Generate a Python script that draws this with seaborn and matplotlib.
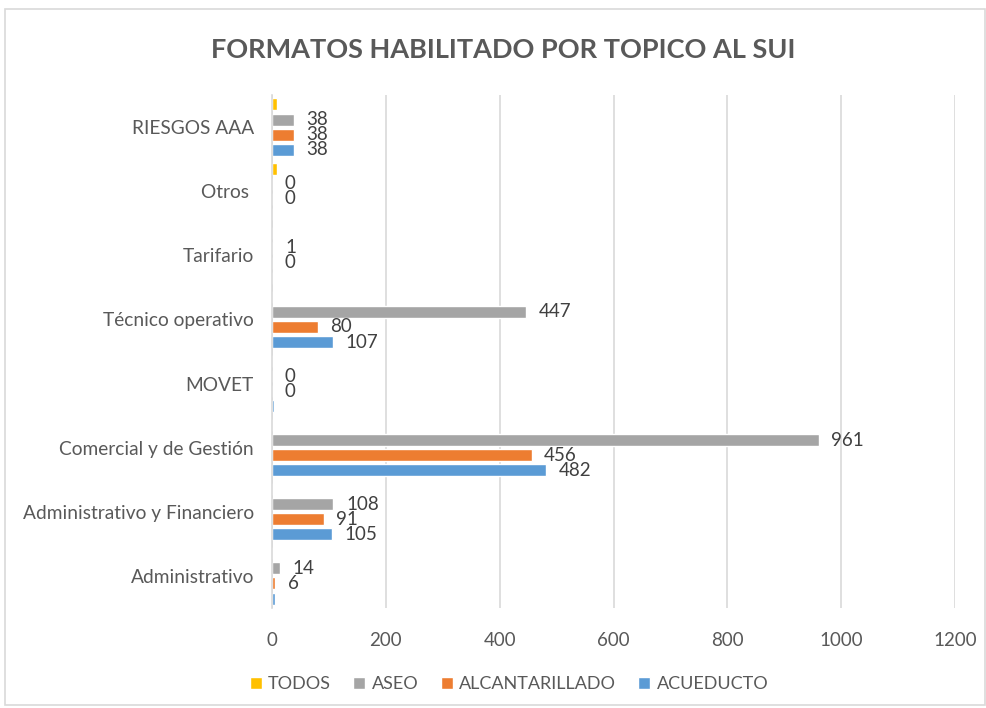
import matplotlib
matplotlib.use("Agg")
import matplotlib.pyplot as plt
import seaborn as sns
import pandas as pd
from matplotlib.patches import Rectangle

# ---- data ----
categories = ["RIESGOS AAA", "Otros ", "Tarifario", "Técnico operativo", "MOVET",
              "Comercial y de Gestión", "Administrativo y Financiero", "Administrativo"]
series = ["TODOS", "ASEO", "ALCANTARILLADO", "ACUEDUCTO"]
todos = [8, 8, 0, 0, 0, 0, 0, 0]
aseo = [38, 0, 1, 447, 0, 961, 108, 14]
alcantarillado = [38, 0, 0, 80, 0, 456, 91, 6]
acueducto = [38, 0, 0, 107, 4, 482, 105, 5]
# which values carry a data label in the reference
show_todos = [False] * 8
show_aseo = [True, True, True, True, True, True, True, True]
show_alcantarillado = [True, True, True, True, True, True, True, True]
show_acueducto = [True, False, False, True, False, True, True, False]
x_ticks = [0, 200, 400, 600, 800, 1000, 1200]

colors = {"TODOS": "#FFC000", "ASEO": "#A5A5A5",
          "ALCANTARILLADO": "#ED7D31", "ACUEDUCTO": "#5B9BD5"}

values = {"TODOS": todos, "ASEO": aseo, "ALCANTARILLADO": alcantarillado, "ACUEDUCTO": acueducto}
shows = {"TODOS": show_todos, "ASEO": show_aseo,
         "ALCANTARILLADO": show_alcantarillado, "ACUEDUCTO": show_acueducto}

rows = []
for s in series:
    for c, v in zip(categories, values[s]):
        rows.append({"Tema": c, "Serie": s, "Valor": v})
df = pd.DataFrame(rows)

sns.set_theme(style="white")
plt.rcParams["font.family"] = ["Lato", "DejaVu Sans"]

fig = plt.figure(figsize=(9.87, 7.08), dpi=100)
ax = fig.add_axes([272 / 987, 1 - 608 / 708, (955 - 272) / 987, (608 - 95) / 708])

sns.barplot(data=df, y="Tema", x="Valor", hue="Serie", order=categories,
            hue_order=series, palette=colors, orient="h", width=0.94, gap=0.2,
            saturation=1, ax=ax, legend=True, errorbar=None)

for cont, s in zip(ax.containers, series):
    labs = [str(v) if sh else "" for v, sh in zip(values[s], shows[s])]
    ax.bar_label(cont, labels=labs, padding=9, fontsize=13.5, color="#404040")

ax.set_xlim(0, 1200)
ax.set_xticks(x_ticks)
ax.set_xticklabels([str(t) for t in x_ticks])
ax.grid(axis="x", color="#D9D9D9", linewidth=1.2)
ax.set_axisbelow(True)
for sp in ["top", "right", "bottom"]:
    ax.spines[sp].set_visible(False)
ax.spines["left"].set_color("#D9D9D9")
ax.spines["left"].set_linewidth(1.2)
ax.tick_params(axis="y", length=0, labelsize=13.8, colors="#595959", pad=13)
ax.tick_params(axis="x", length=0, labelsize=13.5, colors="#595959", pad=17)
ax.set_xlabel("")
ax.set_ylabel("")

handles, labels = ax.get_legend_handles_labels()
ax.get_legend().remove()
fig.legend(handles, labels, loc="center", bbox_to_anchor=(509 / 987, 1 - 684 / 708), ncol=4,
           frameon=False, fontsize=13, labelcolor="#595959", handlelength=0.65,
           handleheight=0.65, handletextpad=0.35, columnspacing=1.25)

fig.text(0.5 * (210 + 797) / 987, 1 - 50 / 708, "FORMATOS HABILITADO POR TOPICO AL SUI",
         ha="center", va="center", fontsize=19.5, fontweight="bold", color="#595959")

fig.patches.append(Rectangle((5 / 987, 3 / 708), 980 / 987, 696 / 708, transform=fig.transFigure,
                             fill=False, edgecolor="#D9D9D9", linewidth=1.2))

fig.savefig("out.png", dpi=100)
